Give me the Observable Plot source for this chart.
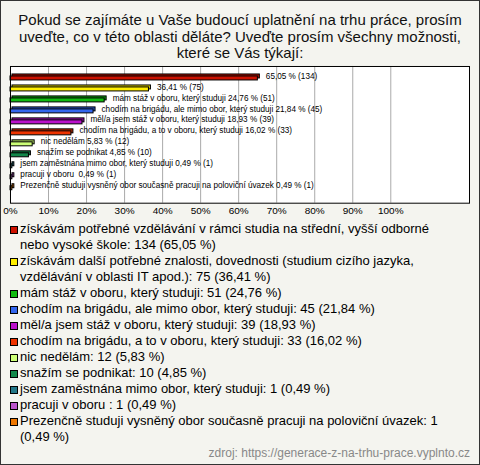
<!DOCTYPE html>
<html><head><meta charset="utf-8">
<script src="https://cdn.jsdelivr.net/npm/d3@7"></script>
<script src="https://cdn.jsdelivr.net/npm/@observablehq/plot@0.6"></script>
<style>
html,body{margin:0;padding:0;background:#fff;}
#root{position:relative;width:480px;height:465px;box-sizing:border-box;border:1px solid #333;background:#f4f4ef;overflow:hidden;font-family:"Liberation Sans",Arial,sans-serif;}
#title{position:absolute;left:0;top:11px;width:478px;text-align:center;font-size:15px;line-height:16.5px;color:#111;}
#chart{position:absolute;left:-1px;top:59px;}
#legend{position:absolute;left:9px;top:220px;width:450px;font-size:13px;line-height:16px;color:#000;}
.item{position:relative;padding-left:10px;}
.sw{position:absolute;left:0;top:5px;width:6px;height:6px;border:1px solid #000;}
#source{position:absolute;right:9px;top:445px;font-size:12px;line-height:14px;color:#888;}
</style>
</head><body>
<div id="root">
  <div id="title"></div>
  <div id="chart"></div>
  <div id="legend"></div>
  <div id="source"></div>
</div>
<script>
const titleLines = [
  "Pokud se zajímáte u Vaše budoucí uplatnění na trhu práce, prosím",
  "uveďte, co v této oblasti děláte? Uveďte prosím všechny možnosti,",
  "které se Vás týkají:"
];
const names = [
  "získávám potřebné vzdělávání v rámci studia na střední, vyšší odborné nebo vysoké škole",
  "získávám další potřebné znalosti, dovednosti (studium cizího jazyka, vzdělávání v oblasti IT apod.)",
  "mám stáž v oboru, který studuji",
  "chodím na brigádu, ale mimo obor, který studuji",
  "měl/a jsem stáž v oboru, který studuji",
  "chodím na brigádu, a to v oboru, který studuji",
  "nic nedělám",
  "snažím se podnikat",
  "jsem zaměstnána mimo obor, který studuji",
  "pracuji v oboru ",
  "Prezenčně studuji vysněný obor současně pracuji na poloviční úvazek"
];
const counts = [134, 75, 51, 45, 39, 33, 12, 10, 1, 1, 1];
const percents = [65.05, 36.41, 24.76, 21.84, 18.93, 16.02, 5.83, 4.85, 0.49, 0.49, 0.49];
const showNameOnBar = [false, false, true, true, true, true, true, true, true, true, true];
const colors = ["#cc1100", "#ffee00", "#11bb11", "#3366ee", "#bb11cc", "#ee3300", "#ccff77", "#11884a", "#227788", "#bb55cc", "#ee7700"];
const tickValues = [0, 10, 20, 30, 40, 50, 60, 70, 80, 90, 100];
const sourceText = "zdroj: https://generace-z-na-trhu-prace.vyplnto.cz";

const fmt = v => v.toFixed(2).replace(".", ",");
const data = names.map((n, i) => ({
  name: n, pct: percents[i], count: counts[i], color: colors[i],
  back: d3.color(colors[i]).darker(0.6).formatHex(),
  label: (showNameOnBar[i] ? n + " " : "") + fmt(percents[i]) + " % (" + counts[i] + ")"
}));

document.getElementById("title").innerHTML = titleLines.map(t => `<div>${t}</div>`).join("");

const chart = Plot.plot({
  width: 480, height: 160,
  marginLeft: 10, marginRight: 10, marginTop: 6, marginBottom: 17,
  style: {background: "transparent", fontFamily: "'Liberation Sans', Arial, sans-serif", overflow: "visible"},
  x: {domain: [0, 120.7], label: null},
  y: {type: "band", domain: names, range: [9.2, 135.2], paddingInner: 0.5, paddingOuter: 0, axis: null},
  color: {type: "identity"},
  marks: [
    Plot.frame({fill: "white", stroke: "none"}),
    Plot.gridX(tickValues, {stroke: "#aaa", strokeOpacity: 1}),
    Plot.barX(data, {x: "pct", y: "name", fill: "back", stroke: "#000", strokeWidth: 1, dx: 2, dy: -2, insetTop: 2}),
    Plot.barX(data, {x: "pct", y: "name", fill: "color", stroke: "#000", strokeWidth: 1, insetTop: 2}),
    Plot.text(data, {x: "pct", y: "name", text: "label", textAnchor: "start", dx: 8, dy: -1.5, fontSize: 8.2, fill: "#000"}),
    Plot.frame({stroke: "#000"}),
    Plot.axisX({ticks: tickValues, tickSize: 0, tickPadding: 4, tickFormat: d => d + "%", fontSize: 10, fill: "#000", label: null})
  ]
});
document.getElementById("chart").appendChild(chart);

document.getElementById("legend").innerHTML = data.map(d =>
  `<div class="item"><span class="sw" style="background:${d.color}"></span>${d.name}: ${d.count} (${fmt(d.pct)} %)</div>`
).join("");
document.getElementById("source").textContent = sourceText;
</script>
</body></html>
